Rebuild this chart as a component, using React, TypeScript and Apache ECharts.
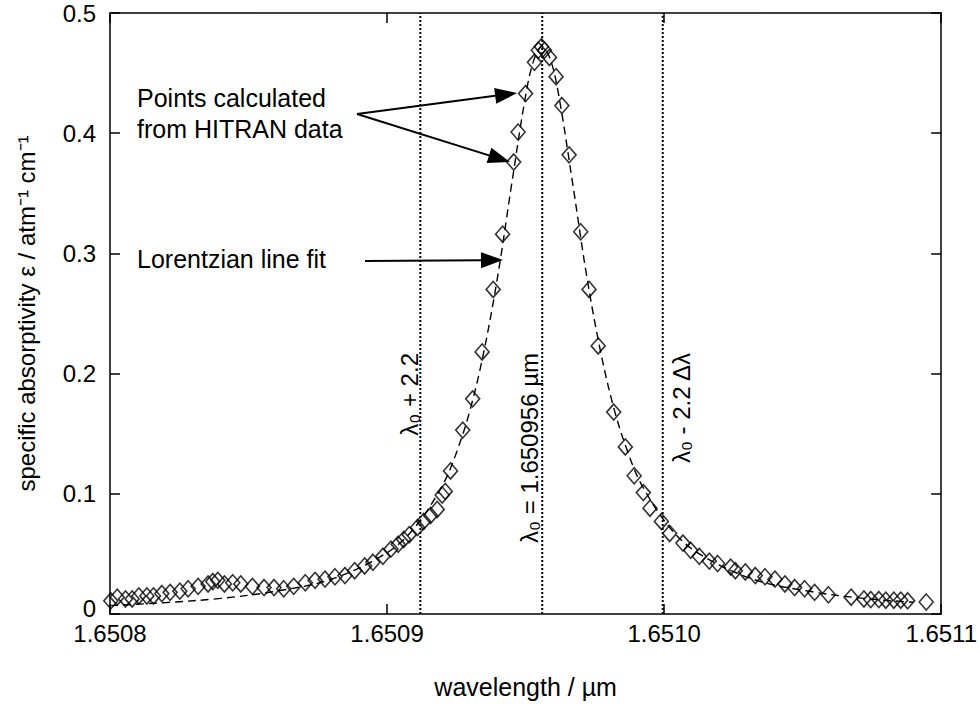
import React, { useEffect, useRef } from 'react';
import * as echarts from 'echarts';

// ---- data ----
const xTicks = [1.6508, 1.6509, 1.651, 1.6511];
const yTicks = [0, 0.1, 0.2, 0.3, 0.4, 0.5];

const pointWavelengths = [
  1.6508003, 1.6508026, 1.6508056, 1.650808, 1.6508104, 1.6508133, 1.6508157, 1.6508187,
  1.6508217, 1.6508252, 1.6508282, 1.6508318, 1.6508354, 1.6508371, 1.6508389, 1.6508413,
  1.6508443, 1.6508472, 1.6508514, 1.6508556, 1.6508592, 1.6508627, 1.6508663, 1.6508705,
  1.650874, 1.6508776, 1.6508812, 1.6508848, 1.6508883, 1.6508919, 1.6508949, 1.6508985,
  1.6509014, 1.650904, 1.650906, 1.650908, 1.650911, 1.6509132, 1.6509157, 1.6509181,
  1.6509199, 1.650921, 1.6509229, 1.6509273, 1.6509309, 1.6509343, 1.6509383, 1.6509417,
  1.6509457, 1.6509473, 1.65095, 1.6509532, 1.6509546, 1.6509557, 1.6509568, 1.6509586,
  1.650961, 1.6509631, 1.6509657, 1.6509699, 1.6509729, 1.6509762, 1.6509818, 1.650986,
  1.6509892, 1.6509925, 1.6509949, 1.650999, 1.651002, 1.6510068, 1.6510096, 1.6510127,
  1.6510163, 1.6510193, 1.651024, 1.6510257, 1.6510293, 1.6510329, 1.6510364, 1.65104,
  1.6510436, 1.6510471, 1.6510507, 1.6510543, 1.6510593, 1.6510675, 1.6510721, 1.6510746,
  1.6510775, 1.65108, 1.6510829, 1.6510854, 1.6510879, 1.6510946,
];
const pointAbsorptivity = [
  0.011, 0.014, 0.0125, 0.0125, 0.015, 0.015, 0.015, 0.017,
  0.018, 0.019, 0.021, 0.023, 0.025, 0.027, 0.028, 0.025,
  0.026, 0.025, 0.023, 0.022, 0.022, 0.021, 0.023, 0.026,
  0.028, 0.029, 0.031, 0.032, 0.036, 0.04, 0.043, 0.048,
  0.054, 0.058, 0.062, 0.066, 0.072, 0.077, 0.082, 0.087,
  0.099, 0.102, 0.119, 0.153, 0.179, 0.218, 0.27, 0.316,
  0.376, 0.401, 0.433, 0.459, 0.469, 0.472, 0.469, 0.463,
  0.447, 0.423, 0.382, 0.318, 0.27, 0.223, 0.168, 0.139,
  0.115, 0.101, 0.088, 0.077, 0.067, 0.059, 0.053, 0.048,
  0.044, 0.042, 0.039, 0.036, 0.035, 0.032, 0.031, 0.029,
  0.025, 0.022, 0.021, 0.018, 0.016, 0.014, 0.0125, 0.012,
  0.012, 0.0115, 0.0115, 0.0115, 0.011, 0.01,
];

const fitWavelengths = [
  1.6508, 1.65082, 1.65084, 1.65086, 1.65088, 1.6509, 1.65091, 1.65092, 1.650925, 1.65093,
  1.650935, 1.65094, 1.650945, 1.65095, 1.650953, 1.650956, 1.650959, 1.650962, 1.650967,
  1.650972, 1.650977, 1.650982, 1.650987, 1.650992, 1.651002, 1.651012, 1.651032, 1.651052,
  1.651072, 1.65109,
];
const fitAbsorptivity = [
  0.007, 0.0095, 0.013, 0.019, 0.029, 0.051, 0.072, 0.107, 0.134, 0.17,
  0.219, 0.282, 0.358, 0.431, 0.461, 0.472, 0.461, 0.431, 0.358,
  0.282, 0.219, 0.17, 0.134, 0.107, 0.072, 0.051, 0.029, 0.019,
  0.013, 0.0098,
];

const guideWavelengths = [1.650912, 1.650956, 1.6509995];
const guideRange = [0, 0.5];

const FONT = '"Liberation Sans", Arial, Helvetica, sans-serif';
const FS = 24;
const FA = 25;

function arrow(x1: number, y1: number, x2: number, y2: number) {
  const ang = Math.atan2(y2 - y1, x2 - x1);
  const L = 22;
  const W = 8;
  const bx = x2 - L * Math.cos(ang);
  const by = y2 - L * Math.sin(ang);
  const px = -Math.sin(ang);
  const py = Math.cos(ang);
  return [
    {
      type: 'line',
      shape: { x1, y1, x2: bx, y2: by },
      style: { stroke: '#000', lineWidth: 2 },
      silent: true,
    },
    {
      type: 'polygon',
      shape: {
        points: [
          [x2, y2],
          [bx + px * W, by + py * W],
          [bx - px * W, by - py * W],
        ],
      },
      style: { fill: '#000' },
      silent: true,
    },
  ];
}

function vtext(text: string, x: number, y: number) {
  return {
    type: 'text',
    x,
    y,
    rotation: Math.PI / 2,
    style: {
      text,
      font: `${FS}px ${FONT}`,
      fill: '#000',
      align: 'right',
      verticalAlign: 'middle',
    },
    silent: true,
  };
}

function htext(text: string, x: number, y: number) {
  return {
    type: 'text',
    x,
    y,
    style: {
      text,
      font: `${FA}px ${FONT}`,
      fill: '#000',
      align: 'left',
      verticalAlign: 'middle',
    },
    silent: true,
  };
}

export default function App() {
  const ref = useRef<HTMLDivElement>(null);

  useEffect(() => {
    document.body.style.margin = '0';
    const chart = echarts.init(ref.current!, null, { renderer: 'svg' });

    const points = pointWavelengths.map((x, i) => [x, pointAbsorptivity[i]]);
    const fit = fitWavelengths.map((x, i) => [x, fitAbsorptivity[i]]);

    const axisCommon = {
      type: 'value',
      axisLine: { show: true, onZero: false, lineStyle: { color: '#000', width: 1.5 } },
      axisTick: { show: true, inside: true, length: 10, lineStyle: { color: '#000', width: 1.5 } },
      splitLine: { show: false },
    };

    const guideSeries = guideWavelengths.map((x) => ({
      type: 'line',
      data: guideRange.map((y) => [x, y]),
      showSymbol: false,
      symbol: 'none',
      silent: true,
      lineStyle: { color: '#000', width: 2, type: [2, 2] },
      z: 2,
    }));

    chart.setOption({
      animation: false,
      backgroundColor: '#fff',
      grid: { left: 110, right: 29, top: 13, bottom: 89, containLabel: false },
      xAxis: [
        {
          ...axisCommon,
          min: 1.6508,
          max: 1.6511,
          position: 'bottom',
          axisTick: { ...axisCommon.axisTick, customValues: xTicks },
          axisLabel: {
            customValues: xTicks,
            formatter: (v: number) => v.toFixed(4),
            color: '#000',
            fontSize: FS,
            fontFamily: FONT,
            lineHeight: 18,
            margin: 10,
          },
          name: 'wavelength / µm',
          nameLocation: 'middle',
          nameGap: 60,
          nameTextStyle: { color: '#000', fontSize: FA, fontFamily: FONT },
        },
        {
          ...axisCommon,
          min: 1.6508,
          max: 1.6511,
          position: 'top',
          axisTick: { ...axisCommon.axisTick, customValues: xTicks },
          axisLabel: { show: false },
        },
      ],
      yAxis: [
        {
          ...axisCommon,
          min: 0,
          max: 0.5,
          interval: 0.1,
          position: 'left',
          axisTick: { ...axisCommon.axisTick, customValues: yTicks },
          axisLabel: {
            customValues: yTicks,
            formatter: (v: number) => (v === 0 ? '0' : String(+v.toFixed(1))),
            color: '#000',
            fontSize: FS,
            fontFamily: FONT,
            lineHeight: 12,
            margin: 14,
            verticalAlignMinLabel: 'bottom',
          },
          name: 'specific absorptivity ε / atm⁻¹ cm⁻¹',
          nameLocation: 'middle',
          nameRotate: 90,
          nameGap: 72,
          nameTextStyle: { color: '#000', fontSize: FS, fontFamily: FONT },
        },
        {
          ...axisCommon,
          min: 0,
          max: 0.5,
          interval: 0.1,
          position: 'right',
          axisTick: { ...axisCommon.axisTick, customValues: yTicks },
          axisLabel: { show: false },
        },
      ],
      series: [
        ...guideSeries,
        {
          name: 'Lorentzian line fit',
          type: 'line',
          data: fit,
          smooth: 0.35,
          showSymbol: false,
          symbol: 'none',
          lineStyle: { color: '#000', width: 1.4, type: [8, 5] },
          z: 3,
        },
        {
          name: 'Points calculated from HITRAN data',
          type: 'scatter',
          data: points,
          symbol: 'diamond',
          symbolSize: [14, 16],
          itemStyle: { color: 'rgba(0,0,0,0)', borderColor: '#000', borderWidth: 1.6 },
          z: 4,
        },
      ],
      graphic: [
        htext('Points calculated', 137, 98),
        htext('from HITRAN data', 137, 129),
        htext('Lorentzian line fit', 137, 259),
        ...arrow(357, 114, 517, 93),
        ...arrow(357, 114, 510, 162),
        ...arrow(365, 261, 503, 260),
        vtext('λ₀ + 2.2', 409, 353),
        vtext('λ₀ = 1.650956 µm', 529, 353),
        vtext('λ₀ - 2.2 Δλ', 681, 353),
      ],
    });

    return () => chart.dispose();
  }, []);

  return (
    <div
      ref={ref}
      style={{ position: 'absolute', left: 0, top: 0, width: 980, height: 704 }}
    />
  );
}
